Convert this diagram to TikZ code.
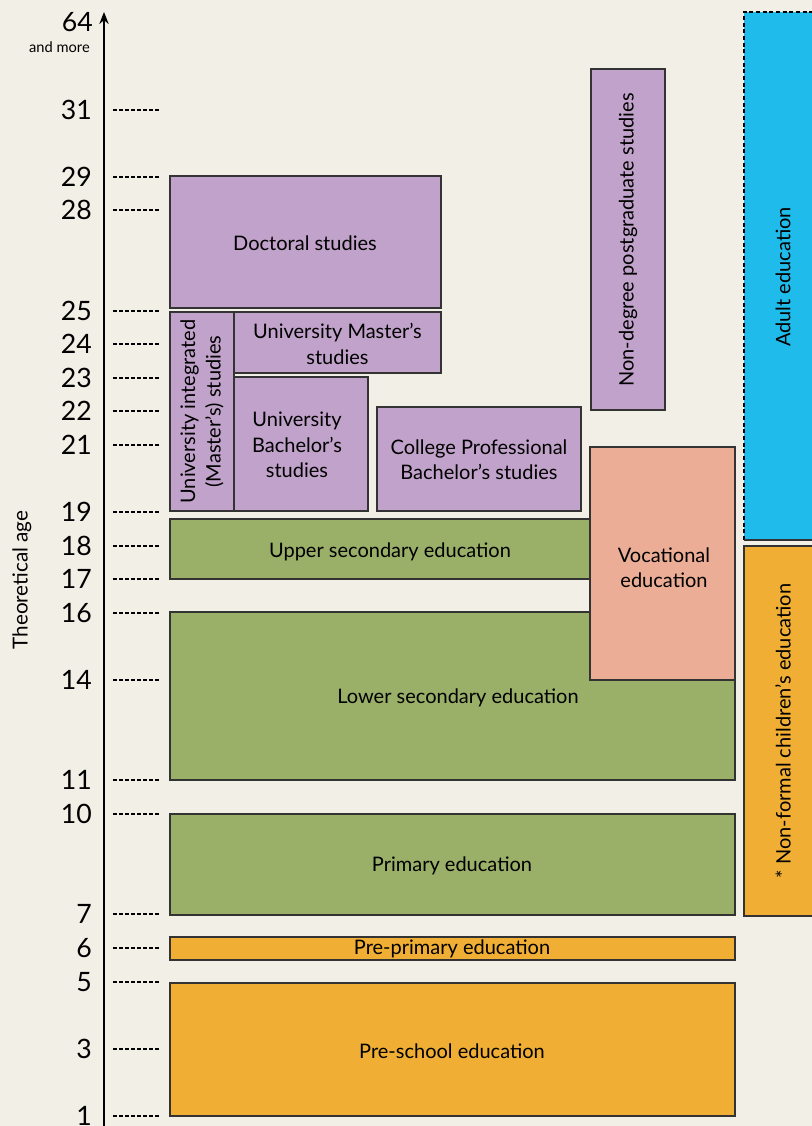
\documentclass[tikz,border=0pt]{standalone}
\usepackage{fontspec}
\setmainfont{Lato}
\usetikzlibrary{fit,arrows.meta}
\definecolor{bgc}{HTML}{F2F0E6}
\definecolor{purp}{HTML}{C1A2CA}
\definecolor{grn}{HTML}{9AAF68}
\definecolor{orng}{HTML}{F0AF34}
\definecolor{salm}{HTML}{EBAD95}
\definecolor{blu}{HTML}{1FBBEA}
\tikzset{
  box/.style={draw=black!80, line width=0.9pt, inner sep=0pt},
  pbox/.style={box, fill=purp},
  gbox/.style={box, fill=grn},
  obox/.style={box, fill=orng},
  vbox/.style={box, fill=salm},
  btext/.style={align=center, font=\fontsize{15}{19}\selectfont, inner sep=0pt},
  rtext/.style={btext, rotate=90},
  agenum/.style={anchor=east, font=\fontsize{20}{24}\selectfont, inner sep=0pt},
  tick/.style={line width=1.1pt, dash pattern=on 3pt off 1.5pt},
}
\begin{document}
\begin{tikzpicture}[x=0.75pt, y=-0.75pt]
\useasboundingbox[fill=bgc] (0,0) rectangle (812,1126);
% axis
\coordinate (axb) at (104,1126);
\coordinate (axt) at (104,12);
\draw[line width=1.5pt, -{Stealth[length=9pt,width=7pt]}] (axb) -- (axt);
\node[agenum] (n64) at (93,22) {64};
\node[anchor=east, font=\fontsize{11}{12}\selectfont, inner sep=0pt] (more) at (90,47) {and more};
\foreach \a/\y in {31/110,29/177,28/210,25/311,24/344,23/378,22/411,21/445,19/512,18/546,17/579,16/613,14/680,11/780,10/814,7/914,6/948,5/982,3/1049,1/1116}{
  \node[agenum] (n\a) at (92,\y) {\a};
  \coordinate (ta\a) at (113,\y);
  \coordinate (tb\a) at (160,\y);
  \draw[tick] (ta\a) -- (tb\a);
}
\node[rotate=90, font=\fontsize{15.5}{19}\selectfont] (ylab) at (22,580) {Theoretical age};
% purple boxes
\node[pbox, fit={(170,176) (441,308)}] (doc) {};
\node[btext] at (305,243) {Doctoral studies};
\node[pbox, fit={(170,312) (234,511)}] (integ) {};
\node[rtext] at (integ.center) {University integrated\\(Master’s) studies};
\node[pbox, fit={(234,312) (441,373)}] (mast) {};
\node[btext] at ([yshift=-1pt]mast.center) {University Master’s\\studies};
\node[pbox, fit={(234,377) (368,511)}] (bach) {};
\node[btext] at (297,445) {University\\Bachelor’s\\studies};
\node[pbox, fit={(377,407) (581,511)}] (coll) {};
\node[btext] at (479,460) {College Professional\\Bachelor’s studies};
\node[pbox, fit={(591,69) (665,410)}] (nondeg) {};
\node[rtext] at (628,240) {Non-degree postgraduate studies};
% green boxes
\node[gbox, fit={(170,519) (600,579)}] (upper) {};
\node[btext] at (390,552) {Upper secondary education};
\node[gbox, fit={(170,612) (735,780)}] (lower) {};
\node[btext] at (458,698) {Lower secondary education};
\node[vbox, fit={(590,447) (735,680)}] (voc) {};
\node[btext] at (664,568) {Vocational\\education};
\node[gbox, fit={(170,814) (735,915)}] (prim) {};
\node[btext] at (452,866) {Primary education};
% orange
\node[obox, fit={(170,937) (735,960)}] (prepri) {};
\node[btext] at (452,949) {Pre-primary education};
\node[obox, fit={(170,983) (735,1116)}] (presch) {};
\node[btext] at (452,1051) {Pre-school education};
% right column
\fill[blu] (744,12) rectangle (813,540);
\draw[line width=0.8pt, dash pattern=on 3pt off 2pt] (744,540) -- (744,12) -- (813,12);
\draw[line width=0.8pt, black!80] (744,540) -- (813,540);
\node[rtext] (adult) at (783,277) {Adult education};
\node[obox, fit={(744,546) (815,916)}] (nonf) {};
\node[rtext] at (783,731) {* Non-formal children’s education};
\end{tikzpicture}
\end{document}
